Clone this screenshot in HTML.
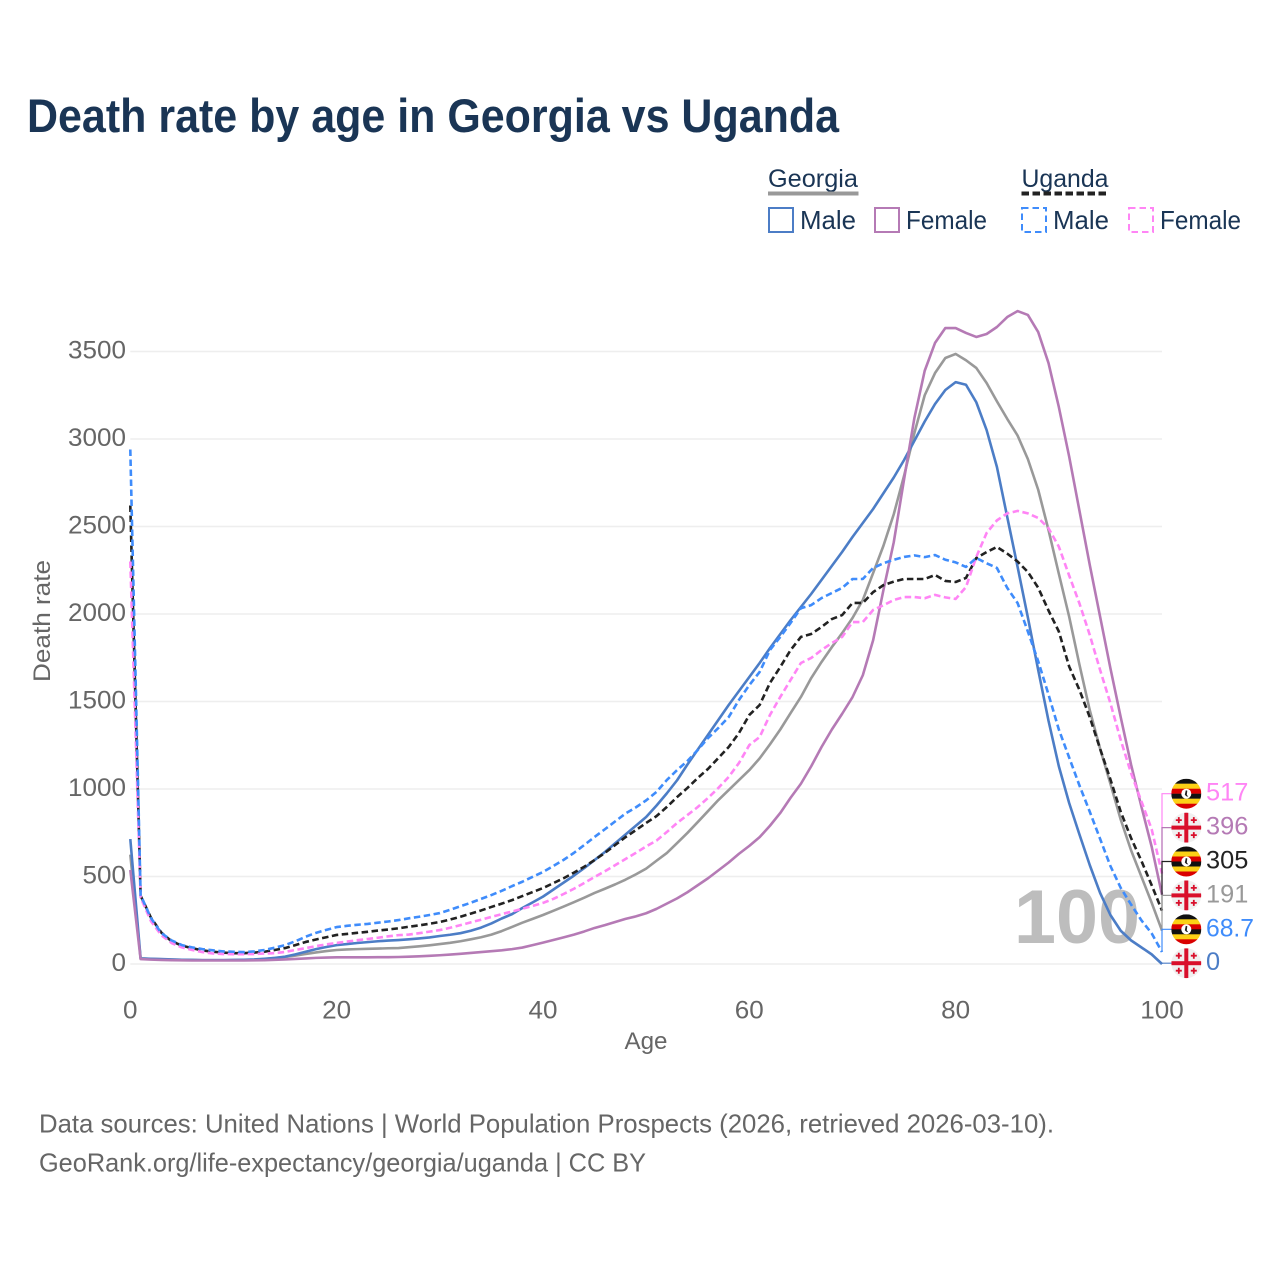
<!DOCTYPE html>
<html lang="en">
<head>
<meta charset="utf-8">
<title>Death rate by age in Georgia vs Uganda</title>
<style>
html,body{margin:0;padding:0;background:#fff;width:1280px;height:1280px;overflow:hidden}
svg{display:block}
text{font-family:"Liberation Sans",sans-serif}
</style>
</head>
<body>
<svg id="chart" xmlns="http://www.w3.org/2000/svg" width="1280" height="1280" viewBox="0 0 1280 1280">
  <defs>
    <clipPath id="flag-clip"><circle cx="0" cy="0" r="15"/></clipPath>
  </defs>
  <rect width="1280" height="1280" fill="#fff"/>
  <text x="27" y="132" font-size="47" font-weight="700" fill="#1a3555" textLength="812" lengthAdjust="spacingAndGlyphs">Death rate by age in Georgia vs Uganda</text>

  <g>
    <text x="768" y="187" font-size="25" fill="#1a3555" textLength="90" lengthAdjust="spacingAndGlyphs">Georgia</text>
    <line x1="768" x2="858.5" y1="193.5" y2="193.5" stroke="#999" stroke-width="4"/>
    <text x="1021.5" y="187" font-size="25" fill="#1a3555" textLength="87" lengthAdjust="spacingAndGlyphs">Uganda</text>
    <line x1="1021.5" x2="1108.5" y1="193.5" y2="193.5" stroke="#222" stroke-width="4" stroke-dasharray="7.5 3.5"/>
    <rect x="769" y="208" width="24" height="24" fill="none" stroke="#4c7dc6" stroke-width="2"/>
    <text x="800" y="229" font-size="26" fill="#1a3555" textLength="56" lengthAdjust="spacingAndGlyphs">Male</text>
    <rect x="875" y="208" width="24" height="24" fill="none" stroke="#b57ab5" stroke-width="2"/>
    <text x="906" y="229" font-size="26" fill="#1a3555" textLength="81" lengthAdjust="spacingAndGlyphs">Female</text>
    <rect x="1022" y="208" width="24" height="24" fill="none" stroke="#3f8cfb" stroke-width="2" stroke-dasharray="6.5 4"/>
    <text x="1053" y="229" font-size="26" fill="#1a3555" textLength="56" lengthAdjust="spacingAndGlyphs">Male</text>
    <rect x="1129" y="208" width="24" height="24" fill="none" stroke="#ff85f5" stroke-width="2" stroke-dasharray="6.5 4"/>
    <text x="1160" y="229" font-size="26" fill="#1a3555" textLength="81" lengthAdjust="spacingAndGlyphs">Female</text>
  </g>

  <g id="grid"></g>
  <g id="y-ticks"></g>
  <g id="x-ticks"></g>
  <text transform="translate(50,621) rotate(-90)" text-anchor="middle" font-size="24" fill="#666" textLength="122" lengthAdjust="spacingAndGlyphs">Death rate</text>
  <text x="646" y="1049" text-anchor="middle" font-size="24" fill="#666" textLength="43" lengthAdjust="spacingAndGlyphs">Age</text>

  <text x="1140" y="943" text-anchor="end" font-size="76" font-weight="700" fill="#bdbdbd" textLength="126" lengthAdjust="spacingAndGlyphs">100</text>

  <g id="lines"></g>
  <g id="end-labels"></g>

  <text x="39" y="1132.5" font-size="26" fill="#666" textLength="1015" lengthAdjust="spacingAndGlyphs">Data sources: United Nations | World Population Prospects (2026, retrieved 2026-03-10).</text>
  <text x="39" y="1171.5" font-size="26" fill="#666" textLength="607" lengthAdjust="spacingAndGlyphs">GeoRank.org/life-expectancy/georgia/uganda | CC BY</text>
</svg>
<script>
const ages = [];
for (let a = 0; a <= 100; a++) ages.push(a);
const yTickValues = [0, 500, 1000, 1500, 2000, 2500, 3000, 3500];
const xTickValues = [0, 20, 40, 60, 80, 100];

const georgiaTotal = [
  625,32,29,27,25,24,23,22,22,22,
  22,23,24,28,34,40,48,57,66,74,
  80,83,85,87,88,90,91,96,101,107,
  114,121,130,141,153,168,188,212,236,258,
  280,304,328,353,379,406,430,455,482,512,
  545,590,634,691,749,811,874,937,994,1051,
  1108,1175,1255,1340,1434,1526,1634,1726,1811,1891,
  1977,2080,2234,2390,2570,2790,3034,3250,3377,3463,
  3486,3450,3406,3320,3215,3115,3020,2885,2710,2480,
  2230,1985,1710,1450,1230,1030,825,650,500,350,
  191];
const georgiaMale = [
  714,32,30,28,26,24,23,22,22,22,
  23,24,26,30,35,42,55,70,85,97,
  108,114,120,125,130,134,137,141,146,152,
  160,167,176,190,208,232,260,285,320,352,
  385,425,465,505,548,594,640,690,740,790,
  840,905,975,1050,1140,1225,1310,1395,1480,1560,
  1640,1720,1805,1885,1965,2040,2115,2195,2275,2355,
  2440,2520,2600,2690,2780,2880,2990,3100,3200,3280,
  3325,3310,3210,3051,2840,2554,2270,1980,1680,1390,
  1130,920,740,565,406,280,190,135,95,55,
  0];
const georgiaFemale = [
  537,28,25,23,22,21,20,20,20,20,
  20,20,21,22,24,26,29,32,35,37,
  38,38,38,38,39,39,40,42,44,47,
  50,54,58,63,68,73,78,85,94,108,
  122,137,152,168,186,206,222,240,258,272,
  290,315,345,375,410,450,490,535,580,630,
  675,725,790,863,950,1030,1130,1240,1340,1430,
  1525,1650,1850,2137,2410,2770,3120,3390,3549,3634,
  3634,3606,3583,3600,3640,3697,3731,3709,3611,3434,
  3183,2900,2590,2280,1985,1690,1410,1140,900,670,
  396];
const ugandaTotal = [
  2620,390,265,180,130,105,90,78,70,65,
  62,62,65,70,80,91,108,126,140,153,
  166,172,178,184,191,197,204,213,221,230,
  240,254,270,288,306,326,345,365,388,411,
  434,462,490,522,556,594,635,680,725,765,
  806,845,897,954,1006,1063,1115,1177,1240,1320,
  1423,1480,1606,1697,1794,1869,1886,1926,1971,1994,
  2063,2063,2125,2165,2185,2200,2200,2200,2223,2189,
  2183,2206,2320,2354,2383,2345,2300,2240,2150,2020,
  1900,1700,1566,1410,1230,1055,870,720,590,450,
  305];
const ugandaFemale = [
  2300,380,245,165,120,95,80,68,60,57,
  56,56,57,60,62,69,80,91,102,112,
  120,128,136,143,150,158,165,168,176,185,
  194,207,222,238,253,269,285,300,316,332,
  349,372,400,430,463,497,530,565,600,635,
  672,705,754,806,851,897,949,1006,1069,1149,
  1251,1297,1423,1526,1623,1720,1749,1794,1834,1869,
  1954,1954,2023,2050,2080,2097,2097,2090,2109,2095,
  2086,2154,2326,2463,2535,2575,2589,2575,2549,2490,
  2385,2220,2060,1880,1680,1490,1280,1091,930,770,
  517];
const ugandaMale = [
  2940,394,263,177,135,108,95,85,78,72,
  70,68,72,80,93,108,130,156,178,195,
  211,218,224,229,236,243,251,261,270,280,
  291,310,330,350,372,394,418,445,470,498,
  526,560,595,635,680,726,770,815,860,895,
  935,983,1051,1108,1160,1223,1291,1349,1411,1509,
  1594,1669,1794,1869,1949,2033,2051,2091,2120,2149,
  2200,2200,2263,2290,2310,2326,2335,2325,2337,2310,
  2295,2269,2320,2290,2263,2149,2063,1900,1730,1540,
  1340,1180,1020,870,715,560,435,340,250,175,
  68.7];

const endLabelTexts = ["517", "396", "305", "191", "68.7", "0"];

const plotLeft = 130.3, plotRight = 1162, plotBottom = 964, plotTop3500 = 351.5;
const xScale = a => plotLeft + (a / 100) * (plotRight - plotLeft);
const yScale = v => plotBottom - (v / 3500) * (plotBottom - plotTop3500);
const NS = "http://www.w3.org/2000/svg";
function make(tag, attrs, parent) {
  const el = document.createElementNS(NS, tag);
  for (const k in attrs) el.setAttribute(k, attrs[k]);
  parent.appendChild(el);
  return el;
}

const gridG = document.getElementById("grid");
const yG = document.getElementById("y-ticks");
const xG = document.getElementById("x-ticks");
yTickValues.forEach(v => {
  const ln = make("line", {x1: plotLeft, x2: plotRight, y1: yScale(v), y2: yScale(v), stroke: "#eeeeee", "stroke-width": 1.6}, gridG);
  
  
  const t = make("text", {x: 126, y: yScale(v) + 7, "text-anchor": "end", "font-size": 25, fill: "#666", textLength: String(v).length * 14.5, lengthAdjust: "spacingAndGlyphs"}, yG);
  
  
  t.textContent = v;
});
xTickValues.forEach(a => {
  const t = make("text", {x: xScale(a), y: 1018.5, "text-anchor": "middle", "font-size": 25, fill: "#666", textLength: String(a).length * 14.5, lengthAdjust: "spacingAndGlyphs"}, xG);
  
  
  t.textContent = a;
});

const linesG = document.getElementById("lines");
function drawLine(values, color, dash, name) {
  const d = values.map((v, i) => (i ? "L" : "M") + xScale(ages[i]).toFixed(2) + " " + yScale(v).toFixed(2)).join(" ");
  const p = make("path", {d: d, fill: "none", stroke: color, "stroke-width": 2.6, "stroke-linejoin": "round"}, linesG);
  if (dash) p.setAttribute("stroke-dasharray", "6.5 3.5");
  
  
}
drawLine(georgiaTotal, "#999999", false, "line-georgia-total");
drawLine(georgiaMale, "#4c7dc6", false, "line-georgia-male");
drawLine(georgiaFemale, "#b57ab5", false, "line-georgia-female");
drawLine(ugandaTotal, "#222222", true, "line-uganda-total");
drawLine(ugandaFemale, "#ff85f5", true, "line-uganda-female");
drawLine(ugandaMale, "#3f8cfb", true, "line-uganda-male");

const endG = document.getElementById("end-labels");
const endSeries = [ugandaFemale, georgiaFemale, ugandaTotal, georgiaTotal, ugandaMale, georgiaMale];
const endColors = ["#ff85f5", "#b57ab5", "#222222", "#999999", "#3f8cfb", "#4c7dc6"];
const endCountries = ["uganda", "georgia", "uganda", "georgia", "uganda", "georgia"];

function drawUgandaFlag(cx, cy) {
  const g = make("g", {transform: "translate(" + cx + "," + cy + ")", "clip-path": "url(#flag-clip)"}, endG);
  
  
  ["#111111", "#fcd116", "#d90000", "#111111", "#fcd116", "#d90000"].forEach((c, i) => {
    make("rect", {x: -15, y: -15 + i * 5, width: 30, height: 5.2, fill: c}, g);
  });
  make("circle", {cx: 0, cy: 0, r: 5, fill: "#fff"}, g);
  make("path", {d: "M-0.5 -3.5 L1 -3 L0.5 1 L2 3 L0 2.5 L-1.5 1 Z", fill: "#222"}, g);
}
function drawGeorgiaFlag(cx, cy) {
  const g = make("g", {transform: "translate(" + cx + "," + cy + ")", "clip-path": "url(#flag-clip)"}, endG);
  
  
  make("rect", {x: -15, y: -15, width: 30, height: 30, fill: "#f0f0f0"}, g);
  make("rect", {x: -15, y: -2, width: 30, height: 4, fill: "#d90f2b"}, g);
  make("rect", {x: -2, y: -15, width: 4, height: 30, fill: "#d90f2b"}, g);
  [[-7.5, -7.5], [7.5, -7.5], [-7.5, 7.5], [7.5, 7.5]].forEach(c => {
    make("path", {d: "M" + (c[0] - 3) + " " + c[1] + " H" + (c[0] + 3) + " M" + c[0] + " " + (c[1] - 3) + " V" + (c[1] + 3), stroke: "#d90f2b", "stroke-width": 1.8, fill: "none"}, g);
  });
}
endLabelTexts.forEach((label, i) => {
  const cy = 793.7 + i * 33.9;
  const valueY = yScale(endSeries[i][100]);
  const conn = make("path", {d: "M" + plotRight + " " + valueY.toFixed(1) + " V" + cy.toFixed(1) + " H1172", fill: "none", stroke: endColors[i], "stroke-width": 1.2}, endG);
  
  
  if (endCountries[i] === "uganda") drawUgandaFlag(1186.3, cy); else drawGeorgiaFlag(1186.3, cy);
  const w = label === "68.7" ? 48 : label.length * 14.1;
  const t = make("text", {x: 1206, y: cy + 7, "font-size": 25, fill: endColors[i], textLength: w, lengthAdjust: "spacingAndGlyphs"}, endG);
  
  
  t.textContent = label;
});
</script>
</body>
</html>
